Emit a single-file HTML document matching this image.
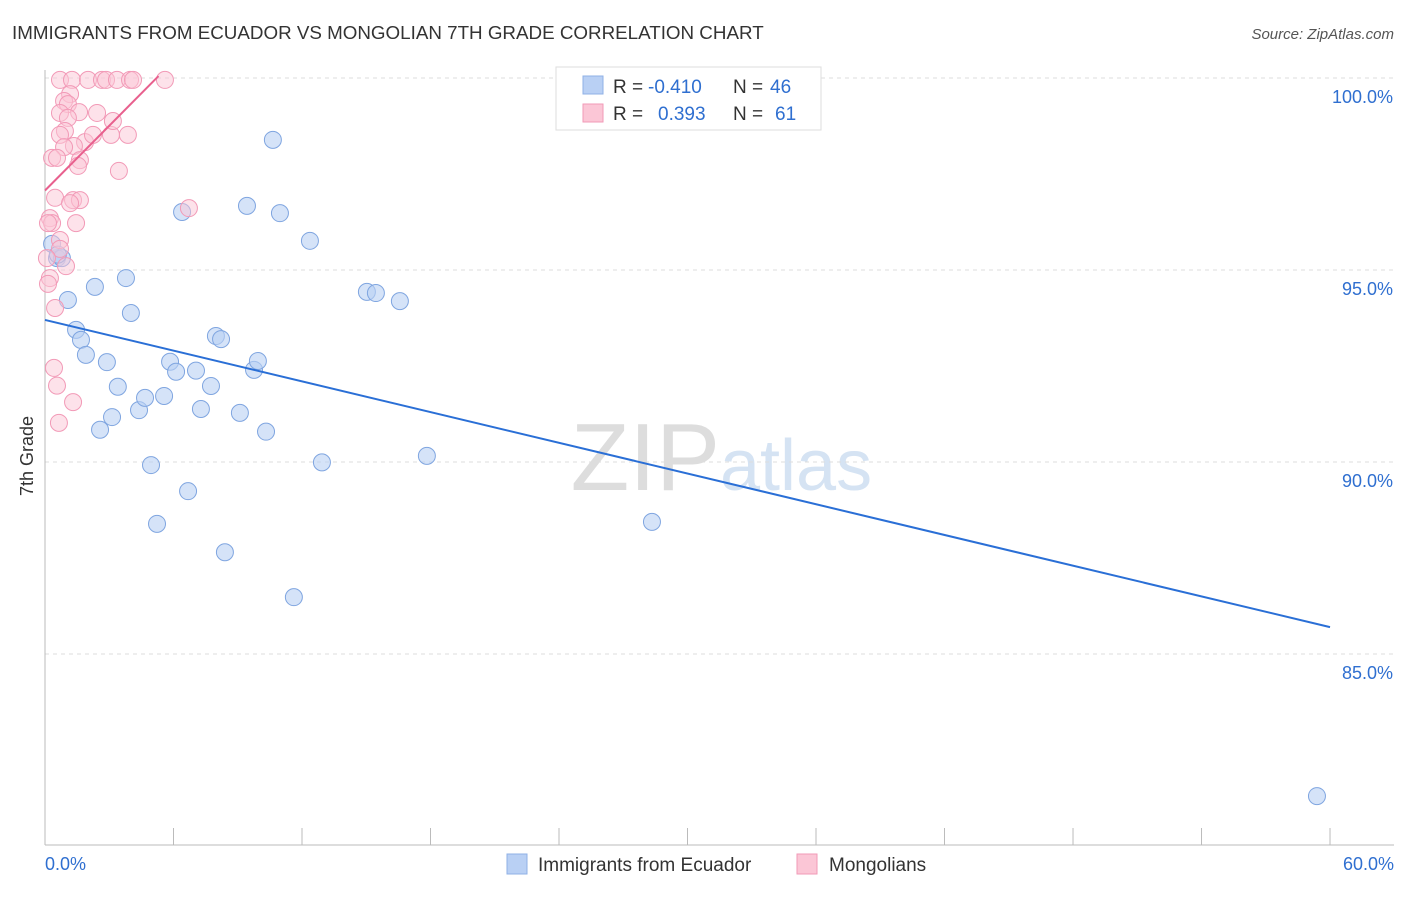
<!DOCTYPE html>
<html><head><meta charset="utf-8"><style>
body{margin:0;background:#fff;font-family:"Liberation Sans",sans-serif;}
svg text{font-family:"Liberation Sans",sans-serif;}
</style></head><body>
<svg id="c" width="1406" height="892">
<text x="12" y="39" font-size="18.8" fill="#333">IMMIGRANTS FROM ECUADOR VS MONGOLIAN 7TH GRADE CORRELATION CHART</text>
<text x="1394" y="39" font-size="15" fill="#555" font-style="italic" text-anchor="end">Source: ZipAtlas.com</text>
<text x="33" y="456" font-size="18" fill="#333" transform="rotate(-90 33 456)" text-anchor="middle">7th Grade</text>
<text x="720" y="490" font-size="96" fill="#ddd" text-anchor="end" font-family="Liberation Serif">ZIP</text>
<text x="720" y="490" font-size="72" fill="#d5e3f3">atlas</text>
<g id="grid"></g><g id="pts"></g><g id="lines"></g>
<g>
<rect x="556" y="67" width="265" height="63" fill="#fff" stroke="#ddd"/>
<rect x="583" y="76" width="20" height="18" fill="#b9d0f4" stroke="#8fb0e6"/>
<rect x="583" y="104" width="20" height="18" fill="#fbc6d6" stroke="#f29ab7"/>
<text x="613" y="93" font-size="19" fill="#333">R =</text>
<text x="648" y="93" font-size="19" fill="#2f6fd0">-0.410</text>
<text x="733" y="93" font-size="19" fill="#333">N =</text>
<text x="770" y="93" font-size="19" fill="#2f6fd0">46</text>
<text x="613" y="120" font-size="19" fill="#333">R =</text>
<text x="658" y="120" font-size="19" fill="#2f6fd0">0.393</text>
<text x="733" y="120" font-size="19" fill="#333">N =</text>
<text x="775" y="120" font-size="19" fill="#2f6fd0">61</text>
</g>
<g>
<rect x="507" y="854" width="20" height="20" fill="#b9d0f4" stroke="#8fb0e6"/>
<text x="538" y="871" font-size="19" fill="#333">Immigrants from Ecuador</text>
<rect x="797" y="854" width="20" height="20" fill="#fbc6d6" stroke="#f29ab7"/>
<text x="829" y="871" font-size="19" fill="#333">Mongolians</text>
</g>
</svg>
<script>
const xTicks=[0,5,10,15,20,25,30,35,40,45,50,55,60];
const yTicks=[85,90,95,100];
const yTickLabels=["85.0%","90.0%","95.0%","100.0%"];
const blueX=[0.56,0.79,1.07,2.33,3.78,4.01,1.45,1.68,1.91,2.89,3.40,2.57,3.13,4.39,4.67,4.95,5.23,5.56,5.84,6.12,6.40,6.68,7.05,7.28,7.75,7.98,8.22,8.40,9.10,9.43,9.76,9.94,10.32,10.64,10.97,11.62,12.37,12.93,15.03,15.45,16.57,17.83,28.34,59.39,0.33,0.6];
const blueY=[95.31,95.31,94.22,94.56,94.79,93.88,93.44,93.18,92.79,92.60,91.96,90.84,91.17,91.35,91.67,89.92,88.39,91.72,92.61,92.35,96.51,89.24,92.38,91.38,91.98,93.28,93.20,87.65,91.28,96.67,92.40,92.63,90.79,98.39,96.48,86.48,95.76,89.99,94.43,94.40,94.19,90.16,88.44,81.30,95.68,95.4];
const pinkX=[0.70,1.26,2.01,2.66,2.85,3.36,3.97,4.11,5.60,1.17,0.89,1.07,0.70,1.59,2.43,1.07,0.93,0.70,1.87,3.08,3.87,1.35,2.24,0.89,0.33,0.56,1.63,1.54,3.45,0.47,1.31,1.63,1.17,6.72,0.23,0.33,0.14,1.45,0.70,0.70,0.98,0.09,0.23,0.14,0.47,0.42,0.56,1.31,0.65,3.17];
const pinkY=[99.95,99.95,99.95,99.95,99.95,99.95,99.95,99.95,99.95,99.58,99.40,99.32,99.09,99.11,99.09,98.96,98.62,98.52,98.33,98.52,98.52,98.23,98.52,98.20,97.92,97.92,97.86,97.71,97.58,96.88,96.82,96.82,96.74,96.61,96.35,96.22,96.22,96.22,95.78,95.55,95.10,95.31,94.79,94.64,94.01,92.45,91.99,91.56,91.02,98.88];
const blueLine=[[0,93.70],[60,85.70]];
const pinkLine=[[0,97.07],[5.3,100.05]];
const X=v=>45+v*21.417, Y=v=>78+(100-v)*38.4;
const NS="http://www.w3.org/2000/svg";
function mk(t,a,p){const e=document.createElementNS(NS,t);for(const k in a)e.setAttribute(k,a[k]);p.appendChild(e);return e;}
const g=document.getElementById('grid');
yTicks.forEach((t,i)=>{
 const l=mk('line',{x1:45,x2:1394,y1:Y(t),y2:Y(t),stroke:'#ddd','stroke-dasharray':'4,4'},g);
 
 
 const tx=mk('text',{x:1393,y:Y(t)+25,'font-size':18,fill:'#2f6fd0','text-anchor':'end'},g);tx.textContent=yTickLabels[i];
 
 
});
const ax=mk('line',{x1:45,x2:1394,y1:845,y2:845,stroke:'#bbb'},g);


const ay=mk('line',{x1:45,x2:45,y1:70,y2:845,stroke:'#bbb'},g);


for(let i=0;i<=10;i++){const v=i*6;const t=mk('line',{x1:X(v),x2:X(v),y1:828,y2:845,stroke:'#bbb'},g);
 
 }
[[0,"0.0%","start",45],[60,"60.0%","end",1394]].forEach(d=>{const t=mk('text',{x:d[3],y:870,'font-size':18,fill:'#2f6fd0','text-anchor':d[2]},g);t.textContent=d[1];
 
 });
const p=document.getElementById('pts');
blueX.forEach((x,i)=>{const c=mk('circle',{cx:X(x),cy:Y(blueY[i]),r:8.5,fill:'#b9d0f4','fill-opacity':0.6,stroke:'#7fa5e0','stroke-width':1},p);
 
 });
pinkX.forEach((x,i)=>{const c=mk('circle',{cx:X(x),cy:Y(pinkY[i]),r:8.5,fill:'#fbc6d6','fill-opacity':0.5,stroke:'#f29ab7','stroke-width':1},p);
 
 });
const L=document.getElementById('lines');
const bl=mk('line',{x1:X(blueLine[0][0]),y1:Y(blueLine[0][1]),x2:X(blueLine[1][0]),y2:Y(blueLine[1][1]),stroke:'#2a6fd6','stroke-width':2},L);


const pl=mk('line',{x1:X(pinkLine[0][0]),y1:Y(pinkLine[0][1]),x2:X(pinkLine[1][0]),y2:Y(pinkLine[1][1]),stroke:'#e8608e','stroke-width':2},L);


</script>
</body></html>
